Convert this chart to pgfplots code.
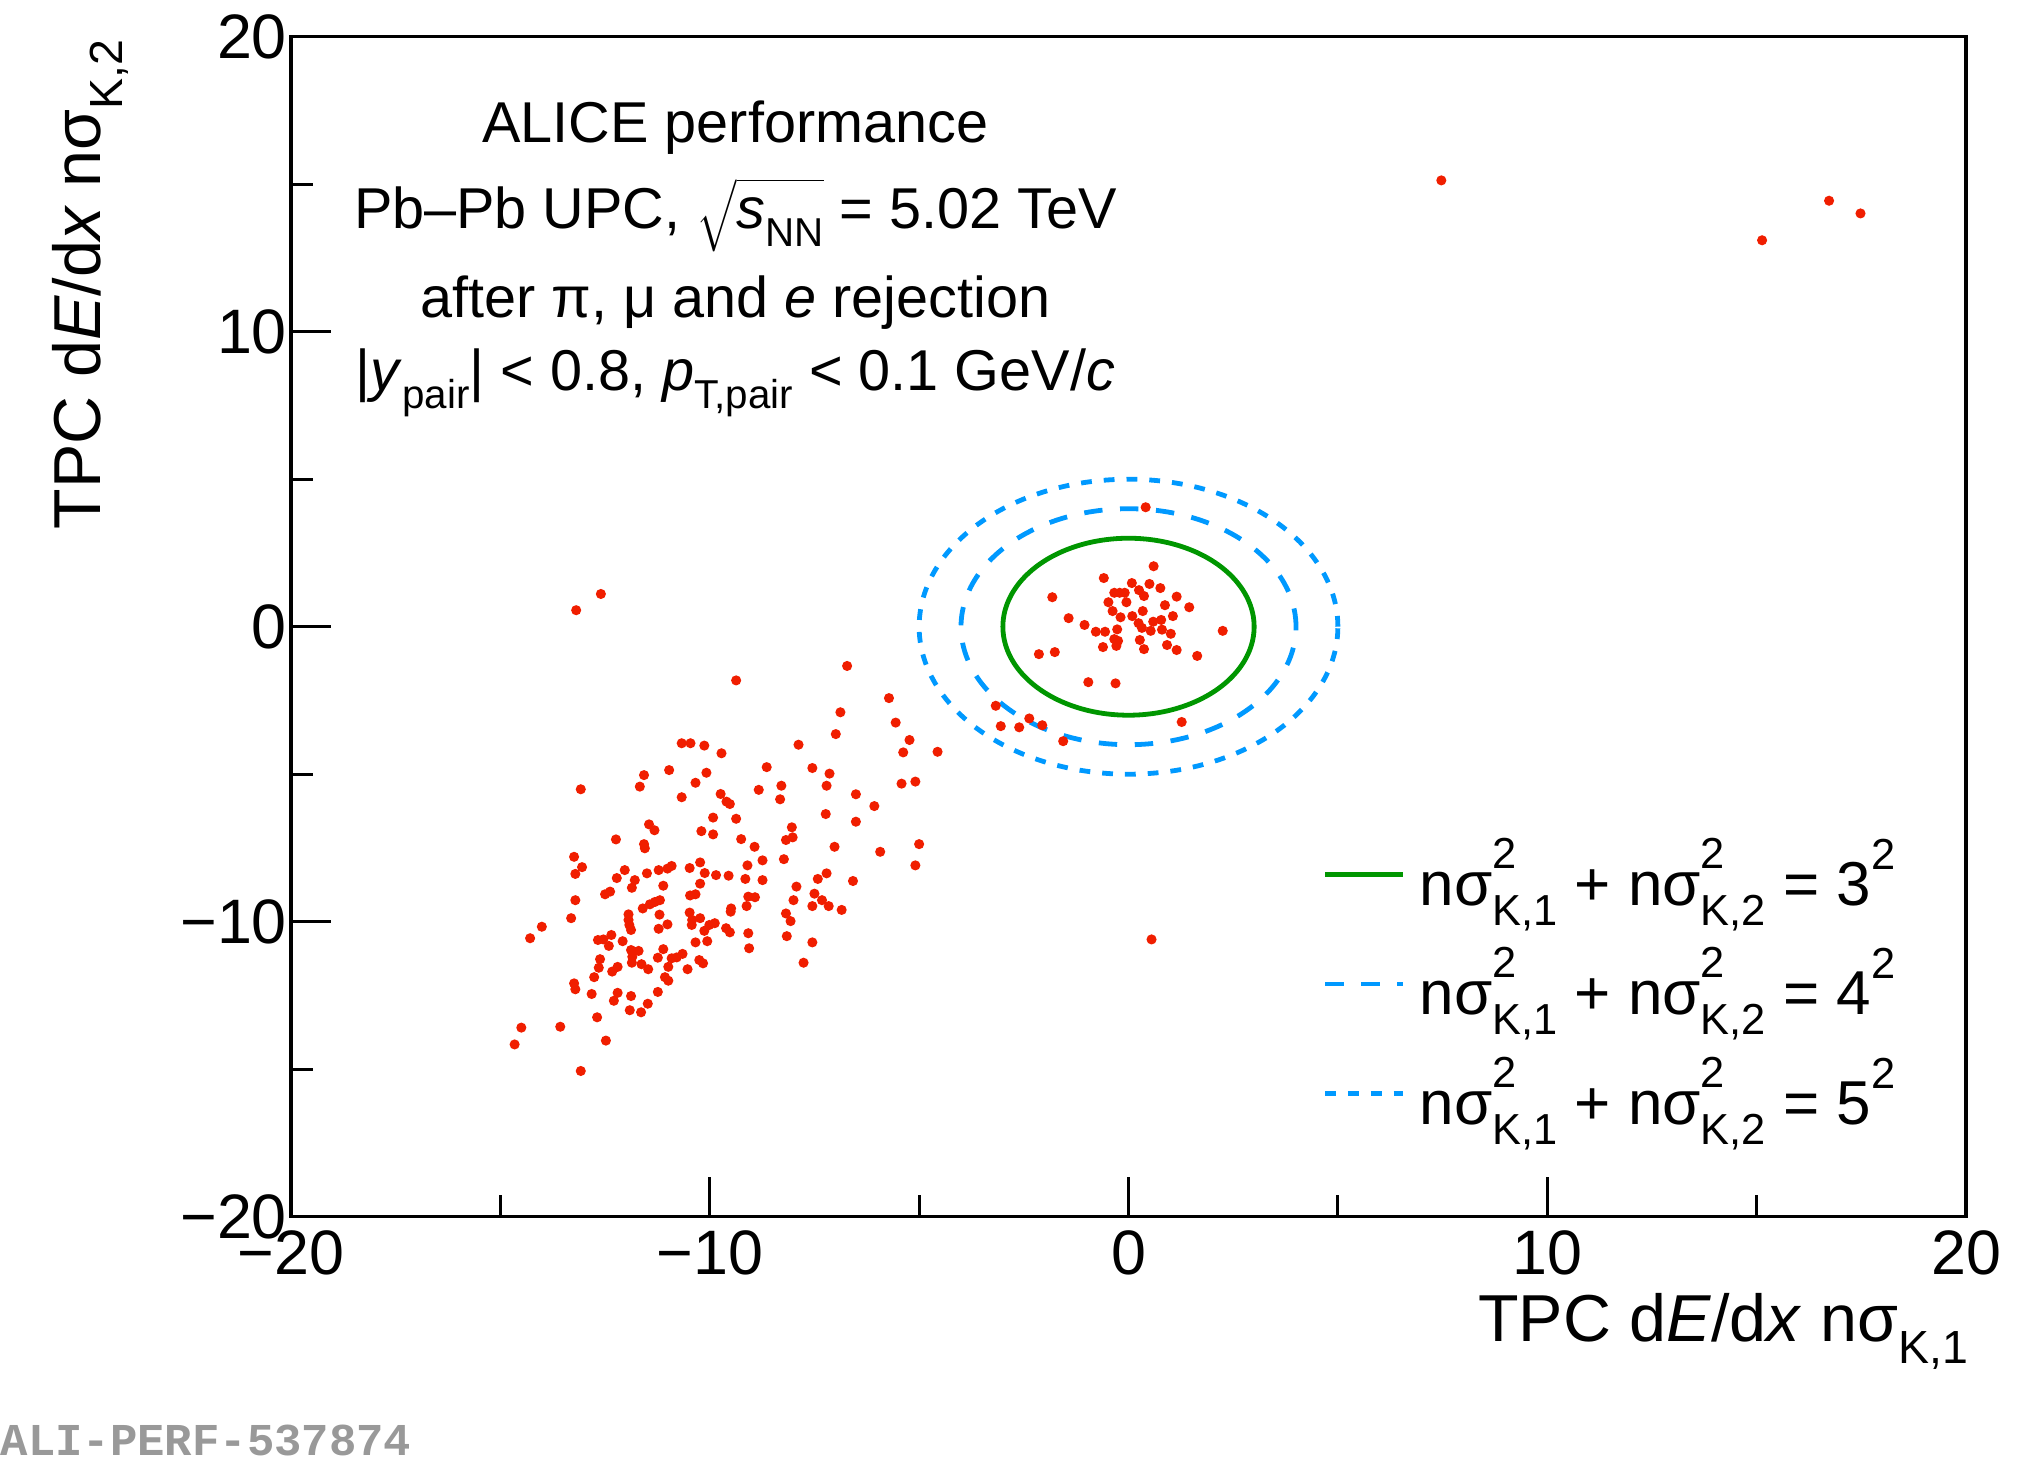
\documentclass[border=0pt]{standalone}
\usepackage{pgfplots}
\pgfplotsset{compat=1.18}
\usepackage{fontspec}
\setmainfont{Liberation Sans}
\setmonofont{Liberation Mono}
\definecolor{ptred}{RGB}{240,30,0}
\definecolor{rgreen}{RGB}{0,150,0}
\definecolor{rblue}{RGB}{0,153,255}
\newcommand{\Sub}[1]{\raisebox{-0.32em}{\scalebox{0.7}{#1}}}
\newcommand{\Sup}[1]{\raisebox{0.58em}{\scalebox{0.7}{#1}}}
\newcommand{\SpSb}[2]{\makebox[0pt][l]{\raisebox{0.6em}{\scalebox{0.7}{#1}}}\raisebox{-0.32em}{\scalebox{0.7}{#2}}}
\pgfplotstableread{
x y
-10.67 -3.95
-10.46 -3.95
-10.13 -4.03
-9.72 -4.29
-13.08 -5.51
-11.57 -5.03
-11.67 -5.42
-10.97 -4.86
-10.08 -4.95
-10.34 -5.29
-10.67 -5.78
-9.74 -5.67
-9.60 -5.93
-9.52 -6.01
-9.92 -6.47
-9.37 -6.51
-11.45 -6.70
-11.32 -6.90
-10.20 -6.93
-9.92 -7.04
-9.25 -7.20
-12.24 -7.21
-11.57 -7.37
-11.55 -7.51
-13.24 -7.80
-13.05 -8.15
-13.21 -8.38
-12.03 -8.25
-12.22 -8.52
-11.79 -8.59
-11.86 -8.85
-11.50 -8.36
-11.22 -8.25
-11.01 -8.20
-10.91 -8.11
-10.48 -8.18
-10.23 -7.99
-10.12 -8.35
-9.85 -8.42
-9.55 -8.44
-9.15 -8.55
-9.10 -8.09
-10.23 -8.71
-11.11 -8.78
-12.50 -9.07
-12.38 -8.98
-13.21 -9.27
-10.47 -9.11
-10.34 -9.07
-11.19 -9.27
-11.31 -9.33
-11.43 -9.41
-11.60 -9.55
-11.94 -9.75
-11.20 -9.76
-10.48 -9.69
-10.23 -9.88
-9.49 -9.55
-9.50 -9.66
-9.12 -9.47
-13.31 -9.88
-9.08 -9.15
-8.92 -9.17
-14.01 -10.17
-14.29 -10.56
-11.94 -9.94
-11.92 -10.11
-11.88 -10.28
-11.01 -10.09
-11.22 -10.24
-10.42 -9.94
-10.43 -10.11
-10.13 -10.31
-10.01 -10.11
-9.88 -10.05
-9.61 -10.22
-9.52 -10.36
-9.08 -10.39
-9.06 -10.90
-12.67 -10.62
-12.54 -10.60
-12.35 -10.45
-12.41 -10.82
-12.08 -10.66
-11.88 -10.96
-11.70 -10.99
-11.85 -11.19
-11.86 -11.39
-11.63 -11.44
-11.47 -11.61
-11.11 -10.93
-11.24 -11.22
-10.99 -11.53
-10.91 -11.24
-10.79 -11.21
-10.65 -11.09
-10.34 -10.70
-10.06 -10.66
-10.25 -11.30
-10.16 -11.41
-10.53 -11.61
-12.62 -11.27
-12.65 -11.56
-12.76 -11.88
-12.33 -11.69
-12.20 -11.53
-11.07 -11.88
-10.99 -12.00
-13.24 -12.09
-13.21 -12.29
-12.82 -12.45
-12.20 -12.41
-12.29 -12.68
-11.88 -12.52
-11.24 -12.38
-11.48 -12.78
-11.91 -13.00
-11.64 -13.07
-12.69 -13.24
-13.57 -13.56
-14.50 -13.59
-14.66 -14.16
-12.48 -14.03
-13.08 -15.06
-5.56 -3.25
-6.99 -3.64
-5.23 -3.84
-5.38 -4.26
-4.56 -4.24
-7.88 -4.00
-8.64 -4.76
-7.55 -4.79
-7.14 -4.98
-8.83 -5.53
-8.29 -5.39
-8.32 -5.85
-7.21 -5.39
-6.51 -5.68
-6.07 -6.08
-5.42 -5.32
-5.09 -5.25
-7.23 -6.35
-6.51 -6.61
-8.04 -6.80
-8.18 -7.23
-8.02 -7.14
-8.93 -7.46
-7.02 -7.46
-5.93 -7.63
-5.00 -7.37
-5.09 -8.09
-8.74 -7.92
-8.23 -7.88
-8.74 -8.59
-7.21 -8.36
-7.42 -8.55
-6.58 -8.62
-7.93 -8.81
-7.50 -9.05
-8.00 -9.27
-7.32 -9.27
-7.55 -9.47
-7.16 -9.47
-6.85 -9.60
-8.18 -9.72
-8.07 -9.98
-8.16 -10.49
-7.55 -10.70
-7.76 -11.39
-12.60 1.11
-13.19 0.56
-9.37 -1.82
-6.72 -1.33
-5.72 -2.42
-6.88 -2.90
0.60 2.05
-0.59 1.65
-1.82 1.00
0.08 1.48
0.50 1.45
0.76 1.31
-0.34 1.15
-0.21 1.15
-0.09 1.15
0.25 1.24
0.37 1.04
1.15 1.02
-0.48 0.83
-0.05 0.83
0.87 0.73
1.45 0.66
-0.38 0.53
0.34 0.53
-0.19 0.32
0.09 0.36
1.06 0.36
-1.43 0.29
0.59 0.17
0.78 0.23
-1.05 0.06
0.24 0.12
0.32 -0.04
-0.27 -0.09
-0.78 -0.17
-0.56 -0.17
0.53 -0.14
0.80 -0.10
1.01 -0.24
2.25 -0.14
-0.34 -0.42
-0.25 -0.48
0.27 -0.45
-0.29 -0.65
-0.61 -0.69
0.37 -0.76
0.92 -0.62
1.15 -0.79
1.64 -0.99
-2.14 -0.93
-1.76 -0.86
-0.96 -1.88
-0.31 -1.92
1.27 -3.23
-2.37 -3.11
-2.06 -3.34
-2.61 -3.41
-3.05 -3.37
-1.56 -3.88
-3.17 -2.68
0.41 4.05
0.55 -10.60
7.47 15.13
16.73 14.44
17.48 14.01
15.13 13.10
}\pts
\begin{document}
\begin{tikzpicture}
\path[use as bounding box] (0,0) rectangle (505.75pt,365.25pt);
\begin{axis}[
  at={(72.75pt,61.075pt)}, anchor=south west,
  scale only axis, width=418.75pt, height=295pt,
  xmin=-20, xmax=20, ymin=-20, ymax=20,
  axis line style={line width=0.8pt},
  xtick={-20,-10,0,10,20}, ytick={-20,-10,0,10,20},
  xticklabels={−20,−10,0,10,20}, yticklabels={−20,−10,0,10,20},
  minor x tick num=1, minor y tick num=1,
  tick align=inside, xtick pos=bottom, ytick pos=left,
  major tick length=10pt, minor tick length=5.5pt,
  tick style={line width=0.8pt, black},
  ticklabel style={font=\fontsize{15.7}{18}\selectfont},
  yticklabel style={xshift=2.5pt},
  legend cell align=left,
  legend style={draw=none, fill=none, at={(0.6155,0.1972)}, anchor=west,
    inner sep=0pt, row sep=9pt, column sep=3.5pt, nodes={inner sep=0pt},
    font=\fontsize{15.5}{18}\selectfont},
  legend image code/.code={\draw[#1] (0pt,0pt) -- (19.5pt,0pt);},
]
\addplot[ptred, only marks, mark=*, mark size=1.05pt, mark options={draw=none, fill=ptred}, forget plot] table[x=x,y=y] {\pts};
\addplot[rgreen, line width=1.2pt, domain=0:360, samples=181, smooth] ({3*cos(x)},{3*sin(x)});
\addlegendentry{nσ\SpSb{2}{K,1} + nσ\SpSb{2}{K,2} = 3\Sup{2}}
\addplot[rblue, line width=1.2pt, dash pattern=on 4.6pt off 4.4pt, domain=0:360, samples=181, smooth] ({4*cos(x)},{4*sin(x)});
\addlegendentry{nσ\SpSb{2}{K,1} + nσ\SpSb{2}{K,2} = 4\Sup{2}}
\addplot[rblue, line width=1.2pt, dash pattern=on 2.7pt off 3pt, domain=0:360, samples=181, smooth] ({5*cos(x)},{5*sin(x)});
\addlegendentry{nσ\SpSb{2}{K,1} + nσ\SpSb{2}{K,2} = 5\Sup{2}}
\end{axis}
\begin{scope}[every node/.style={font=\fontsize{14.4}{17}\selectfont, anchor=base, inner sep=0pt}]
\node at (183.85pt,329.75pt) {ALICE performance};
\node at (183.85pt,308.25pt) {Pb–Pb UPC, $\sqrt{\mbox{\vphantom{T}\textit{s}\Sub{NN}}}$ = 5.02 TeV};
\node at (183.85pt,286pt) {after π, μ and \textit{e} rejection};
\node at (183.85pt,267.75pt) {|\textit{y}\Sub{pair}| < 0.8, \textit{p}\Sub{T,pair} < 0.1 GeV/\textit{c}};
\end{scope}
\node[rotate=90, anchor=base east, inner sep=0pt, font=\fontsize{16.6}{19}\selectfont] at (25.2pt,355.6pt) {TPC d\textit{E}/d\textit{x} nσ\Sub{K,2}};
\node[anchor=base east, inner sep=0pt, font=\fontsize{16.6}{19}\selectfont] at (492.2pt,29.8pt) {TPC d\textit{E}/d\textit{x} nσ\Sub{K,1}};
\node[anchor=base west, inner sep=0pt, text=black!40, font=\fontsize{11.4}{13}\selectfont\ttfamily\bfseries] at (0pt,1.5pt) {ALI-PERF-537874};
\end{tikzpicture}
\end{document}
